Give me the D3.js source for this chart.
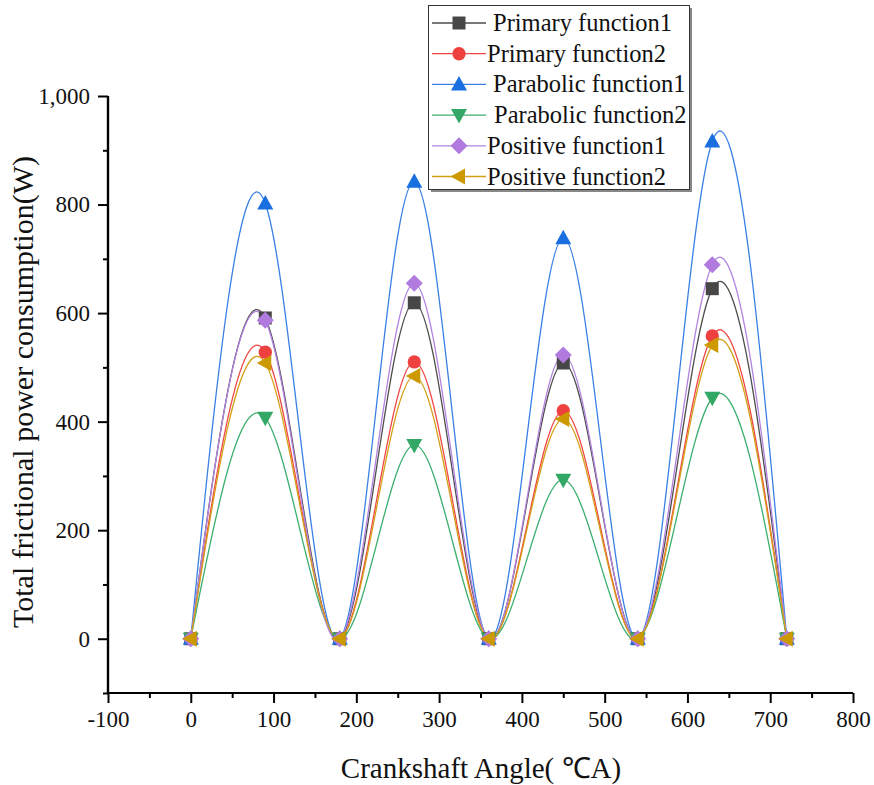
<!DOCTYPE html>
<html>
<head>
<meta charset="utf-8">
<script src="https://cdn.jsdelivr.net/npm/d3@7"></script>
<style>
  html, body { margin: 0; padding: 0; background: #fff; }
  svg { display: block; }
  svg text { font-family: "Liberation Serif", "Times New Roman", serif !important; fill: #111; }
</style>
</head>
<body>
<svg id="chart" width="874" height="785"></svg>
<script>
// ---- data ----
const angles = [0, 90, 180, 270, 360, 450, 540, 630, 720];
const seriesNames = ["Primary function1", "Primary function2", "Parabolic function1",
                     "Parabolic function2", "Positive function1", "Positive function2"];
const primary1   = [0, 591, 0, 619, 0, 508, 0, 645, 0];
const primary2   = [0, 528, 0, 510, 0, 420, 0, 558, 0];
const parabolic1 = [0, 802, 0, 842, 0, 738, 0, 916, 0];
const parabolic2 = [0, 407, 0, 357, 0, 293, 0, 444, 0];
const positive1  = [0, 587, 0, 655, 0, 523, 0, 689, 0];
const positive2  = [0, 508, 0, 484, 0, 405, 0, 541, 0];
const xTicks = [-100, 0, 100, 200, 300, 400, 500, 600, 700, 800];
const yTicks = [0, 200, 400, 600, 800, 1000];

const allValues = [primary1, primary2, parabolic1, parabolic2, positive1, positive2];
const lineColors   = ["#4d4d4d", "#f04646", "#3a80e4", "#3cae6e", "#b283e0", "#d4a018"];
const markerColors = ["#474747", "#ef4040", "#1a6fe0", "#33a866", "#b07ade", "#cc9a00"];
const symbols = ["square", "circle", "triUp", "triDown", "diamond", "triLeft"];
const FONT = "Liberation Serif";

const svg = d3.select("#chart");
const x = d3.scaleLinear().domain([-100, 800]).range([108, 853]);
const y = d3.scaleLinear().domain([-100, 1000]).range([693, 96]);

function markerPath(type) {
  switch (type) {
    case "square": return "M-6.5,-6.5H6.5V6.5H-6.5Z";
    case "circle": return d3.symbol(d3.symbolCircle, 140)();
    case "triUp": return "M0,-8.5L8,6L-8,6Z";
    case "triDown": return "M0,8.5L8,-6L-8,-6Z";
    case "diamond": return "M0,-8.5L8.5,0L0,8.5L-8.5,0Z";
    case "triLeft": return "M-8.5,0L6,-8L6,8Z";
  }
}

// axes
const gx = svg.append("g").attr("transform", `translate(0,${y(-100)})`);
gx.call(d3.axisBottom(x).tickValues(xTicks).tickSize(10).tickPadding(8).tickFormat(d => String(d)));
gx.append("g").call(d3.axisBottom(x).tickValues(d3.range(-50, 800, 100)).tickSize(5).tickFormat(""));
const gy = svg.append("g").attr("transform", `translate(${x(-100)},0)`);
gy.call(d3.axisLeft(y).tickValues(yTicks).tickSize(10).tickPadding(8).tickFormat(d3.format(",")));
gy.append("g").call(d3.axisLeft(y).tickValues([-100, 100, 300, 500, 700, 900]).tickSize(5).tickFormat(""));
svg.selectAll("g").attr("font-family", FONT);
svg.selectAll(".domain").attr("stroke", "#000").attr("stroke-width", 2.2);
svg.selectAll(".tick line").attr("stroke", "#000").attr("stroke-width", 2);
svg.selectAll(".tick text").attr("font-family", FONT).attr("font-size", 23).attr("fill", "#111");
gx.selectAll(".domain").attr("d", `M${x(-100)},0H${x(800)}`);
gy.selectAll(".domain").attr("d", `M0,${y(-100)}V${y(1000)}`);

// axis titles
svg.append("text").attr("x", 481).attr("y", 778).attr("text-anchor", "middle")
  .attr("font-family", FONT).attr("font-size", 29).text("Crankshaft Angle( \u2103A)");
svg.append("text").attr("transform", "translate(33,392) rotate(-90)").attr("text-anchor", "middle")
  .attr("font-family", FONT).attr("font-size", 30).text("Total frictional power consumption(W)");

// curves
const line = d3.line().x((d, i) => x(angles[i])).y(d => y(d)).curve(d3.curveNatural);
allValues.forEach((vals, s) => {
  svg.append("path").attr("d", line(vals)).attr("fill", "none")
    .attr("stroke", lineColors[s]).attr("stroke-width", 1.3);
});
allValues.forEach((vals, s) => {
  svg.append("g").selectAll("path").data(vals).join("path")
    .attr("transform", (d, i) => `translate(${x(angles[i])},${y(d)})`)
    .attr("d", markerPath(symbols[s])).attr("fill", markerColors[s]);
});

// legend
const lg = svg.append("g");
lg.append("rect").attr("x", 431).attr("y", 8).attr("width", 261).attr("height", 184).attr("fill", "#888");
lg.append("rect").attr("x", 428.5).attr("y", 5.5).attr("width", 261).attr("height", 184)
  .attr("fill", "#fff").attr("stroke", "#333").attr("stroke-width", 1);
const textX = [493, 487, 493, 494, 487, 487];
seriesNames.forEach((name, s) => {
  const ry = 23 + s * 30.7;
  lg.append("line").attr("x1", 432).attr("x2", 486).attr("y1", ry).attr("y2", ry)
    .attr("stroke", lineColors[s]).attr("stroke-width", 1.3);
  lg.append("path").attr("transform", `translate(459,${ry})`).attr("d", markerPath(symbols[s]))
    .attr("fill", markerColors[s]);
  lg.append("text").attr("x", textX[s]).attr("y", ry + 8).attr("font-family", FONT)
    .attr("font-size", 24.5).text(name);
});
</script>
</body>
</html>
